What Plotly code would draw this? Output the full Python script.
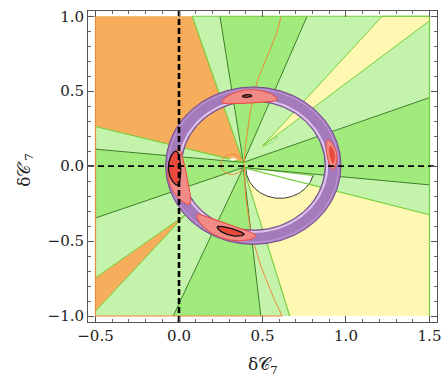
import numpy as np
import plotly.graph_objects as go

# ---------------- data ----------------
x_ticks = [-0.5, 0.0, 0.5, 1.0, 1.5]
x_tick_labels = ["\u22120.5", "0.0", "0.5", "1.0", "1.5"]
y_ticks = [-1.0, -0.5, 0.0, 0.5, 1.0]
y_tick_labels = ["\u22121.0", "\u22120.5", "0.0", "0.5", "1.0"]
x_title = '\u03b4\U0001D49E<sub>7</sub>'
y_title = '\u03b4\U0001D49E\u2032<sub>7</sub>'
region_x = [-0.5, 1.5]
region_y = [-1.0, 1.0]

center_up = [0.385, 0.025]
center_dn = [0.385, -0.01]

# medium-green wedges (apex + edge points)
mg_top_x = [center_up[0], 0.245, 0.767]
mg_top_y = [center_up[1], 1.0, 1.0]
mg_right_x = [center_up[0], 1.5, 1.5, center_dn[0]]
mg_right_y = [center_up[1], 0.457, -0.125, center_dn[1]]
mg_left_x = [center_up[0], -0.5, -0.5, center_dn[0]]
mg_left_y = [center_up[1], 0.113, -0.346, center_dn[1]]
mg_bot_x = [center_dn[0], -0.035, 0.49]
mg_bot_y = [center_dn[1], -1.0, -1.0]

orange_x = [center_up[0], 0.079, -0.5, -0.5]
orange_y = [center_up[1], 1.0, 1.0, 0.264]
orange_sliver_x = [-0.5, 0.039, -0.5]
orange_sliver_y = [-0.745, -0.324, -0.967]

yellow_x = [center_dn[0], 0.663, 1.5, 1.5]
yellow_y = [center_dn[1], -1.0, -1.0, -0.324]
yellow_sliver_x = [0.505, 1.217, 1.5, 1.5]
yellow_sliver_y = [0.14, 1.0, 1.0, 0.97]
white_sliver_x = [0.50, 0.59, 0.575, 0.52]
white_sliver_y = [0.132, 0.198, 0.172, 0.138]

white_lens_center = [0.605, -0.01]
white_lens_r = 0.205
white_lens_theta = [-15.0, -180.0]

small_circle_center = [0.318, 0.012]
small_circle_r = 0.068
small_white_x = [0.298, 0.325, 0.35, 0.325]
small_white_y = [0.045, 0.058, 0.045, 0.034]

# orange curve
curve_y = [1.0, 0.885, 0.75, 0.574, 0.353, 0.13, 0.02, -0.2, -0.446, -0.667, -0.889, -1.0]
curve_x = [0.612, 0.585, 0.535, 0.47, 0.425, 0.398, 0.39, 0.398, 0.43, 0.49, 0.57, 0.618]

# dark rays (end points) and bright rays
dark_rays_up = [[0.245, 1.0], [0.767, 1.0], [1.5, 0.457], [-0.5, 0.113]]
dark_rays_dn = [[1.5, -0.125], [-0.5, -0.346], [-0.035, -1.0], [0.49, -1.0]]
bright_rays_up = [[0.079, 1.0], [-0.5, 0.264]]
bright_rays_dn = [[0.663, -1.0], [1.5, -0.324]]

# ring
ring_center = [0.445, 0.003]
ring_r_in = 0.43
ring_r_out = 0.525
ring_stripe = [0.437, 0.449]
ring_outer_stripe = 0.511

# lobes: theta1, theta2, r0, half width
salmon_lobes = [[166, 214, 0.46, 0.056], [72, 114, 0.463, 0.045],
                [-3, 21, 0.476, 0.03], [224, 272, 0.468, 0.05]]
red_cores = [[168, 196, 0.472, 0.037], [242, 263, 0.462, 0.023], [91, 98, 0.467, 0.009]]
red_glow = [[2, 16, 0.478, 0.015]]

ORANGE = '#f6ae5c'
LGREEN = '#c4f3ac'
MGREEN = '#a0eb7c'
YELLOW = '#fff8b2'
PURPLE = '#a57abd'
LAV = '#dcc6ea'
SALMON = '#f28a86'
RED = '#e8493b'
DKLINE = '#3f7f2c'
GRLINE = '#76cf3c'
ORLINE = '#ee8a3a'

fig = go.Figure()


def poly(xs, ys, color, line_color=None, lw=0):
    fig.add_trace(go.Scatter(x=list(xs) + [xs[0]], y=list(ys) + [ys[0]], mode='lines',
                             fill='toself', fillcolor=color,
                             line=dict(color=line_color or color, width=lw),
                             hoverinfo='skip', showlegend=False))


def line(xs, ys, color, lw=1.0, dash=None):
    fig.add_trace(go.Scatter(x=xs, y=ys, mode='lines',
                             line=dict(color=color, width=lw, dash=dash),
                             hoverinfo='skip', showlegend=False))


def lobe_pts(c, th1, th2, r0, hw, n=80):
    t = np.linspace(0, 1, n)
    th = np.radians(th1 + (th2 - th1) * t)
    w = hw * np.sin(np.pi * t) ** 0.55
    ro, ri = r0 + w, r0 - w
    xs = np.concatenate([c[0] + ro * np.cos(th), (c[0] + ri * np.cos(th))[::-1]])
    ys = np.concatenate([c[1] + ro * np.sin(th), (c[1] + ri * np.sin(th))[::-1]])
    return xs, ys


def circle(c, r, th1=0, th2=360, n=200):
    th = np.radians(np.linspace(th1, th2, n))
    return c[0] + r * np.cos(th), c[1] + r * np.sin(th)


def annulus(c, r1, r2, color):
    xo, yo = circle(c, r2)
    xi, yi = circle(c, r1)
    xs = np.concatenate([xo, xi[::-1]])
    ys = np.concatenate([yo, yi[::-1]])
    fig.add_trace(go.Scatter(x=xs, y=ys, mode='lines', fill='toself', fillcolor=color,
                             line=dict(width=0, color=color), hoverinfo='skip',
                             showlegend=False))


# base
poly([region_x[0], region_x[1], region_x[1], region_x[0]],
     [region_y[0], region_y[0], region_y[1], region_y[1]], LGREEN)
for xs, ys in [(mg_top_x, mg_top_y), (mg_right_x, mg_right_y),
               (mg_left_x, mg_left_y), (mg_bot_x, mg_bot_y)]:
    poly(xs, ys, MGREEN)
poly(orange_x, orange_y, ORANGE)
poly(yellow_x, yellow_y, YELLOW)
poly(yellow_sliver_x, yellow_sliver_y, YELLOW, GRLINE, 1.0)
poly(white_sliver_x, white_sliver_y, 'white', GRLINE, 0.8)
poly(orange_sliver_x, orange_sliver_y, ORANGE, GRLINE, 1.0)

# white lens
th = np.radians(np.linspace(white_lens_theta[0], white_lens_theta[1], 120))
wx = white_lens_center[0] + white_lens_r * np.cos(th)
wy = white_lens_center[1] + white_lens_r * np.sin(th)
poly(list(wx), list(wy), 'white')
line(list(wx), list(wy), '#222222', 0.9)
line([wx[-1], wx[0]], [wy[-1], wy[0]], GRLINE, 1.0)

# rays
for e in dark_rays_up:
    line([center_up[0], e[0]], [center_up[1], e[1]], DKLINE, 1.0)
for e in dark_rays_dn:
    line([center_dn[0], e[0]], [center_dn[1], e[1]], DKLINE, 1.0)
for e in bright_rays_up:
    line([center_up[0], e[0]], [center_up[1], e[1]], GRLINE, 1.1)
for e in bright_rays_dn:
    line([center_dn[0], e[0]], [center_dn[1], e[1]], GRLINE, 1.1)

# small circle and orange curve
poly(small_white_x, small_white_y, '#fffbe0')
cx, cy = circle(small_circle_center, small_circle_r, 25, 335)
line(list(cx), list(cy), ORLINE, 1.0)
line(curve_x, curve_y, ORLINE, 1.0)

# region border
line([region_x[0], region_x[0], 0.618], [region_y[1], region_y[0], region_y[0]], ORLINE, 1.2)
line([0.079, region_x[1], region_x[1]], [region_y[1], region_y[1], region_y[0]], GRLINE, 1.2)

# ring
annulus(ring_center, ring_r_in, ring_r_out, PURPLE)
annulus(ring_center, ring_stripe[0], ring_stripe[1], LAV)
for r, col, w in [(ring_r_in, '#6d3f86', 0.9), (ring_r_out, '#6d3f86', 0.9),
                  (ring_outer_stripe, '#c9a7da', 0.8)]:
    x_, y_ = circle(ring_center, r)
    line(list(x_), list(y_), col, w)

for l in salmon_lobes:
    xs, ys = lobe_pts(ring_center, *l)
    poly(list(xs), list(ys), SALMON, RED, 1.0)
for l in red_glow:
    xs, ys = lobe_pts(ring_center, *l)
    poly(list(xs), list(ys), RED, RED, 0.5)
for l in red_cores:
    xs, ys = lobe_pts(ring_center, *l)
    poly(list(xs), list(ys), RED, '#111111', 1.3)

# dashed axes
line([0, 0], [-1.04, 1.035], 'black', 2.6, '6px,3px')
line([-0.545, 1.545], [0, 0], 'black', 1.6, '6px,4px')

tickfont = dict(family='DejaVu Serif', size=15, color='#222222')
common = dict(showgrid=False, zeroline=False, showline=True, linecolor='#555555',
              linewidth=1, mirror='ticks', ticks='inside', ticklen=6, tickcolor='#555555',
              tickfont=tickfont, automargin=False,
              minor=dict(dtick=0.1, tick0=0, ticks='inside', ticklen=3, tickcolor='#666666',
                         showgrid=False))
titlefont = dict(family='DejaVu Serif', size=17, color='#222222')
fig.update_layout(
    width=445, height=376,
    margin=dict(l=88, r=8, t=11, b=54),
    paper_bgcolor='white', plot_bgcolor='white',
    xaxis=dict(range=[-0.545, 1.545], tickvals=x_ticks, ticktext=x_tick_labels, **common),
    yaxis=dict(range=[-1.04, 1.035], tickvals=y_ticks, ticktext=y_tick_labels, **common),
    annotations=[
        dict(text=x_title, xref='paper', yref='paper', x=0.5, y=-0.139,
             xanchor='center', yanchor='middle', showarrow=False, font=titlefont),
        dict(text=y_title, xref='paper', yref='paper', x=-0.18, y=0.49,
             xanchor='center', yanchor='middle', showarrow=False, font=titlefont,
             textangle=-90),
    ],
)
fig.write_html('out.html', config={'displayModeBar': False},
               post_script="document.body.style.margin='0';document.body.style.overflow='hidden';")
